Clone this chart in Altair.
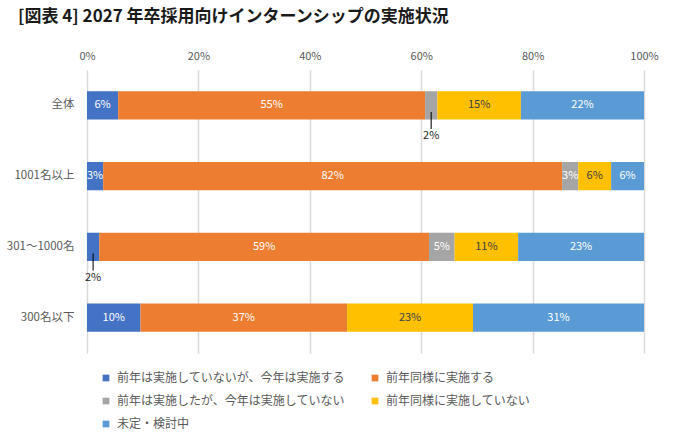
import altair as alt
import pandas as pd

categories = ["全体", "1001名以上", "301〜1000名", "300名以下"]
series = [
    "前年は実施していないが、今年は実施する",
    "前年同様に実施する",
    "前年は実施したが、今年は実施していない",
    "前年同様に実施していない",
    "未定・検討中",
]
colors = ["#4472C4", "#ED7D31", "#A5A5A5", "#FFC000", "#5B9BD5"]

s_new = [5.6, 2.9, 2.2, 9.6]
s_same = [55.1, 82.4, 59.2, 37.1]
s_stop = [2.2, 2.9, 4.6, 0.0]
s_none = [15.0, 5.9, 11.4, 22.6]
s_undecided = [22.1, 5.9, 22.6, 30.7]
values = [s_new, s_same, s_stop, s_none, s_undecided]

x_ticks = [0, 20, 40, 60, 80, 100]

rows = []
for j, (name, vals) in enumerate(zip(series, values)):
    for i, cat in enumerate(categories):
        rows.append({"cat": cat, "series": name, "value": vals[i], "order": j})
df = pd.DataFrame(rows)

FONT = "Noto Sans CJK JP"

base = alt.Chart(df).transform_stack(
    stack="value", groupby=["cat"], sort=[alt.SortField("order")], as_=["x0", "x1"]
).transform_calculate(
    mid="(datum.x0 + datum.x1) / 2",
    label="round(datum.value) + '%'",
)

y_enc = alt.Y(
    "cat:N",
    sort=categories,
    title=None,
    scale=alt.Scale(paddingInner=0.6, paddingOuter=0.3),
    axis=alt.Axis(
        domain=False, ticks=False, labelPadding=13, labelFont=FONT,
        labelFontSize=11.5, labelColor="#595959",
    ),
)

bars = base.mark_bar().encode(
    x=alt.X(
        "x0:Q",
        scale=alt.Scale(domain=[0, 100], nice=False),
        title=None,
        axis=alt.Axis(
            orient="top", values=x_ticks, labelExpr="datum.value + '%'",
            domain=False, ticks=False, gridColor="#D9D9D9", gridWidth=1.5,
            labelFont=FONT, labelFontSize=11, labelColor="#595959", labelPadding=9,
            labelFlush=False,
        ),
    ),
    x2="x1:Q",
    y=y_enc,
    color=alt.Color(
        "series:N",
        sort=series,
        scale=alt.Scale(domain=series, range=colors),
        legend=alt.Legend(
            title=None, orient="none", legendX=13, legendY=302, columns=2,
            direction="horizontal",
            symbolType="square", symbolSize=45, symbolStrokeWidth=0,
            labelFont=FONT, labelFontSize=12, labelColor="#595959",
            rowPadding=11, columnPadding=24, labelOffset=5, padding=0,
            labelLimit=400,
        ),
    ),
)

inside = base.transform_filter("datum.value >= 2.5").mark_text(
    font=FONT, fontSize=11
).encode(
    x="mid:Q",
    y=alt.Y("cat:N", sort=categories),
    text="label:N",
    color=alt.condition(
        alt.datum.series == "前年同様に実施していない",
        alt.value("#404040"),
        alt.value("white"),
    ),
)

callout_line = base.transform_filter("datum.value > 0 && datum.value < 2.5").mark_tick(
    color="#000000", thickness=1.5, size=17, yOffset=15
).encode(
    x="mid:Q",
    y=alt.Y("cat:N", sort=categories),
)

callout_text = base.transform_filter("datum.value > 0 && datum.value < 2.5").mark_text(
    font=FONT, fontSize=11, color="#262626", dy=31
).encode(
    x="mid:Q",
    y=alt.Y("cat:N", sort=categories),
    text="label:N",
)

chart = alt.layer(bars, inside, callout_line, callout_text).properties(
    width=557,
    height=283,
    autosize=alt.AutoSizeParams(type="none"),
    padding={"left": 87, "top": 70, "right": 34, "bottom": 84},
    title=alt.TitleParams(
        text="[図表 4] 2027 年卒採用向けインターンシップの実施状況",
        anchor="start", frame="group", dx=-69, offset=24,
        font=FONT, fontSize=17, fontWeight="bold", color="#1a1a1a",
    ),
).configure_view(stroke=None)

chart.save("out.html", embed_options={"renderer": "svg", "actions": False})
